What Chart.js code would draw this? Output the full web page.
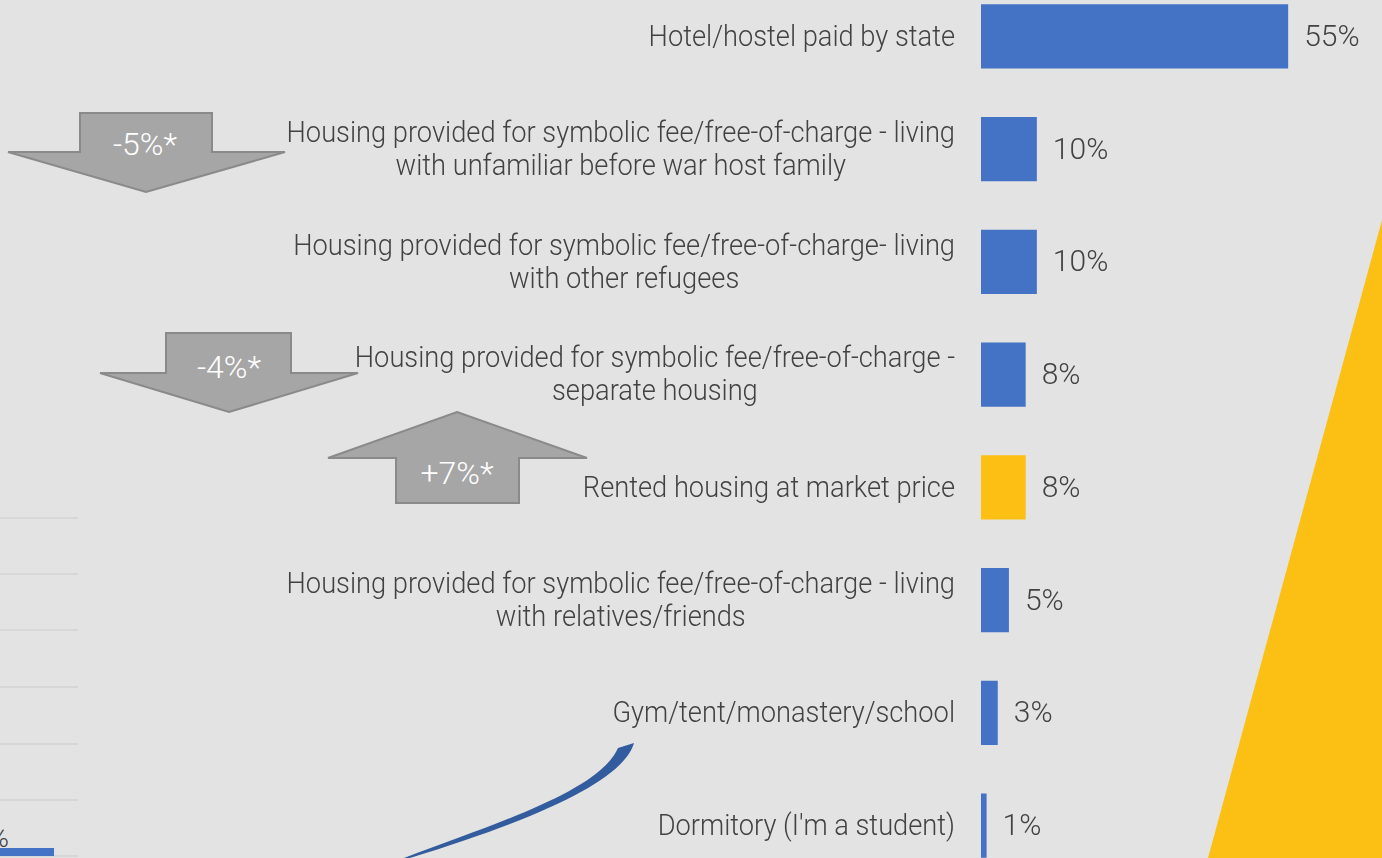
<!DOCTYPE html>
<html>
<head>
<meta charset="utf-8">
<script src="https://cdn.jsdelivr.net/npm/chart.js@4.4.1/dist/chart.umd.min.js"></script>
<style>
  html, body { margin: 0; padding: 0; }
  body { width: 1382px; height: 858px; overflow: hidden; background: #e3e3e3; position: relative; font-family: Roboto, "Liberation Sans", sans-serif; }
  #deco { position: absolute; left: 0; top: 0; }
  #myChart { position: absolute; left: 0; top: -20px; }
</style>
</head>
<body>
<!-- decorations from the slide: change arrows, yellow wedge, curved pointer, cut-off neighbour chart -->
<svg id="deco" width="1382" height="858">
  <g stroke="#d2d2d2" stroke-width="1.5">
    <line x1="0" y1="518" x2="78" y2="518"/>
    <line x1="0" y1="574" x2="78" y2="574"/>
    <line x1="0" y1="630" x2="78" y2="630"/>
    <line x1="0" y1="687" x2="78" y2="687"/>
    <line x1="0" y1="744" x2="78" y2="744"/>
    <line x1="0" y1="800" x2="78" y2="800"/>
    <line x1="0" y1="856" x2="78" y2="856"/>
  </g>
  <rect x="0" y="848" width="54" height="8" fill="#4472c4"/>
  <text x="9" y="847" font-size="28" font-weight="300" fill="#404040" text-anchor="end" font-family="Roboto">%</text>

  <polygon points="1382,220 1208,858 1382,858" fill="#fcbf14"/>

  <path d="M404 858 C500 822 600 790 618 748 L634 743 C625 775 560 812 410 858 Z" fill="#335c9e"/>

  <g fill="#a6a6a6" stroke="#8a8a8a" stroke-width="2">
    <path d="M80 113 L212 113 L212 152 L285 152 L146 192 L8 152 L80 152 Z"/>
    <path d="M166 333 L291 333 L291 373 L358 373 L229 412 L100 373 L166 373 Z"/>
    <path d="M457 412 L587 458 L519 458 L519 503 L396 503 L396 458 L328 458 Z"/>
  </g>
  <g fill="#ffffff" font-size="32" font-weight="300" font-family="Roboto" text-anchor="middle" dominant-baseline="central">
    <text x="145" y="144">-5%*</text>
    <text x="229" y="367">-4%*</text>
    <text x="457" y="473">+7%*</text>
  </g>
</svg>

<canvas id="myChart" width="1382" height="902"></canvas>

<script>
// category labels, one array of lines per bar
const categoryLines = [
	["Hotel/hostel paid by state"],
	["Housing provided for symbolic fee/free-of-charge - living", "with unfamiliar before war host family"],
	["Housing provided for symbolic fee/free-of-charge- living", "with other refugees"],
	["Housing provided for symbolic fee/free-of-charge -", "separate housing"],
	["Rented housing at market price"],
	["Housing provided for symbolic fee/free-of-charge - living", "with relatives/friends"],
	["Gym/tent/monastery/school"],
	["Dormitory (I'm a student)"]
];
// share of respondents, %
const shares = [55, 10, 10, 8, 8, 5, 3, 1];
// the highlighted category gets yellow
const highlighted = "Rented housing at market price";

const blue = '#4472c4';
const yellow = '#fdbf13';
const textColor = '#424242';
const labelFont = '300 29px Roboto, "Liberation Sans", sans-serif';
const valueFont = '300 30px Roboto, "Liberation Sans", sans-serif';
// the slide font is narrower than Roboto, squeeze the category text a bit
const squeeze = 0.94;

let bar_colors = [];
for (let i = 0; i < categoryLines.length; i++) {
	bar_colors.push(categoryLines[i].join(' ') === highlighted ? yellow : blue);
}

// draws the category text left of the bars (lines centred inside a right-aligned block) and the % labels
const sideLabels = {
	id: 'sideLabels',
	afterDatasetsDraw(chart) {
		const ctx = chart.ctx;
		const xs = chart.scales.x;
		const ys = chart.scales.y;
		ctx.save();
		ctx.fillStyle = textColor;
		ctx.textBaseline = 'middle';
		for (let i = 0; i < categoryLines.length; i++) {
			const lines = categoryLines[i];
			const cy = ys.getPixelForValue(i) + 2;
			ctx.font = labelFont;
			let widest = 0;
			for (const l of lines) widest = Math.max(widest, ctx.measureText(l).width * squeeze);
			const cx = chart.chartArea.left - 26 - widest / 2;
			ctx.textAlign = 'center';
			for (let j = 0; j < lines.length; j++) {
				ctx.save();
				ctx.translate(cx, cy + (j - (lines.length - 1) / 2) * 33);
				ctx.scale(squeeze, 1);
				ctx.fillText(lines[j], 0, 0);
				ctx.restore();
			}
			ctx.font = valueFont;
			ctx.textAlign = 'left';
			ctx.fillText(shares[i] + '%', xs.getPixelForValue(shares[i]) + 16, cy);
		}
		ctx.restore();
	}
};

const ctx = document.getElementById('myChart');
const myChart = new Chart(ctx, {
	type: 'bar',
	data: {
		labels: categoryLines.map(l => l.join(' ')),
		datasets: [{
			data: shares,
			backgroundColor: bar_colors,
			borderWidth: 0,
			barPercentage: 0.57,
			categoryPercentage: 1
		}]
	},
	options: {
		indexAxis: 'y',
		responsive: false,
		animation: false,
		layout: {
			padding: { left: 981, right: 0, top: 0, bottom: 0 }
		},
		scales: {
			x: { display: false, min: 0, max: 71.8 },
			y: { display: false }
		},
		plugins: {
			legend: { display: false },
			tooltip: { enabled: false }
		}
	},
	plugins: [sideLabels]
});
</script>
</body>
</html>
